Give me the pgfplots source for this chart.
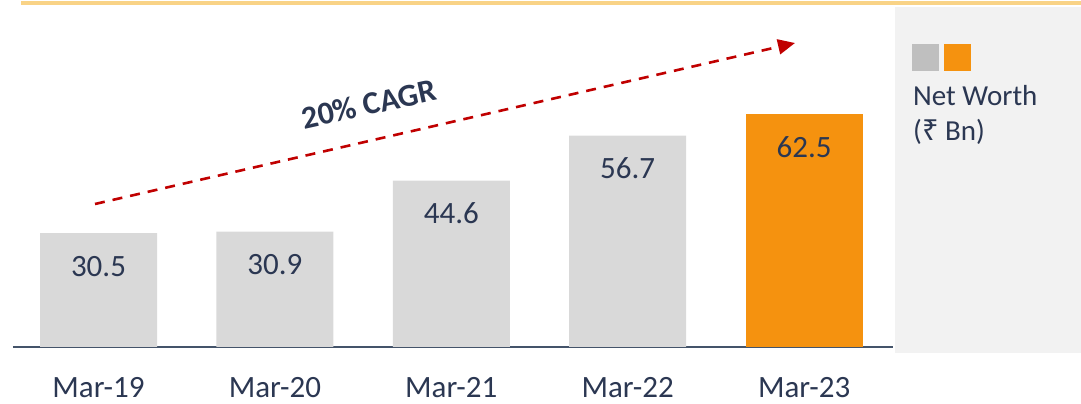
\documentclass[border=0pt]{standalone}
\usepackage{fontspec}
\setmainfont{Carlito}
\newfontfamily\rupeefont{Noto Sans}
\usepackage{pgfplots}
\pgfplotsset{compat=1.18}
\usetikzlibrary{arrows.meta}
\definecolor{navy}{HTML}{2B3752}
\definecolor{bargray}{HTML}{D9D9D9}
\definecolor{leggray}{HTML}{BFBFBF}
\definecolor{barorange}{HTML}{F5920F}
\definecolor{panel}{HTML}{F2F2F2}
\definecolor{topline}{HTML}{F9D386}
\definecolor{axisc}{HTML}{44546A}
\definecolor{arrowred}{HTML}{C00000}
\newcommand{\bigf}{\fontsize{31}{36}\selectfont}
\newcommand{\legf}{\fontsize{29}{34}\selectfont}
\begin{document}
\begin{tikzpicture}[x=1pt,y=1pt]
\useasboundingbox (0,0) rectangle (1081,404);
\fill[panel] (895,51) rectangle (1081,397);
\draw[topline, line width=4pt] (21,400.5) -- (1081,400.5);
\begin{axis}[
  at={(98.5pt,57pt)}, anchor=origin,
  x=176.4pt, y=3.73pt,
  xmin=-0.485, xmax=4.504, ymin=0, ymax=92,
  clip=false,
  axis x line=bottom, axis y line=none,
  x axis line style={-, draw=axisc, line width=1.5pt},
  ytick=\empty,
  xtick={0,1,2,3,4},
  xticklabels={Mar-19,Mar-20,Mar-21,Mar-22,Mar-23},
  major tick length=0pt,
  xticklabel style={anchor=base, yshift=-50pt, text=navy, font=\bigf},
  ybar,
  nodes near coords,
  every node near coord/.append style={anchor=center, yshift=-33pt, text=navy, font=\bigf},
  /pgf/number format/.cd, fixed, fixed zerofill, precision=1, assume math mode=true,
]
\addplot[ybar, bar width=117pt, bar shift=0pt, fill=bargray, draw=none]
  coordinates {(0,30.5) (1,30.9) (2,44.6) (3,56.7)};
\addplot[ybar, bar width=117pt, bar shift=0pt, fill=barorange, draw=none]
  coordinates {(4,62.5)};
\end{axis}
\draw[arrowred, line width=2.6pt, dash pattern=on 10pt off 8pt, -{Triangle[length=17pt,width=15pt]}] (95,200) -- (795,361);
\node[rotate=12.5, text=navy, font=\fontsize{32}{38}\selectfont\bfseries] at (369,300) {20\% CAGR};
\fill[leggray] (912,333) rectangle (939,360);
\fill[barorange] (944,333) rectangle (971,360);
\node[anchor=base west, inner sep=0, text=navy, font=\legf] at (913,298) {Net Worth};
\node[anchor=base west, inner sep=0, text=navy, font=\legf] at (913,263) {({\rupeefont ₹} Bn)};
\end{tikzpicture}
\end{document}
